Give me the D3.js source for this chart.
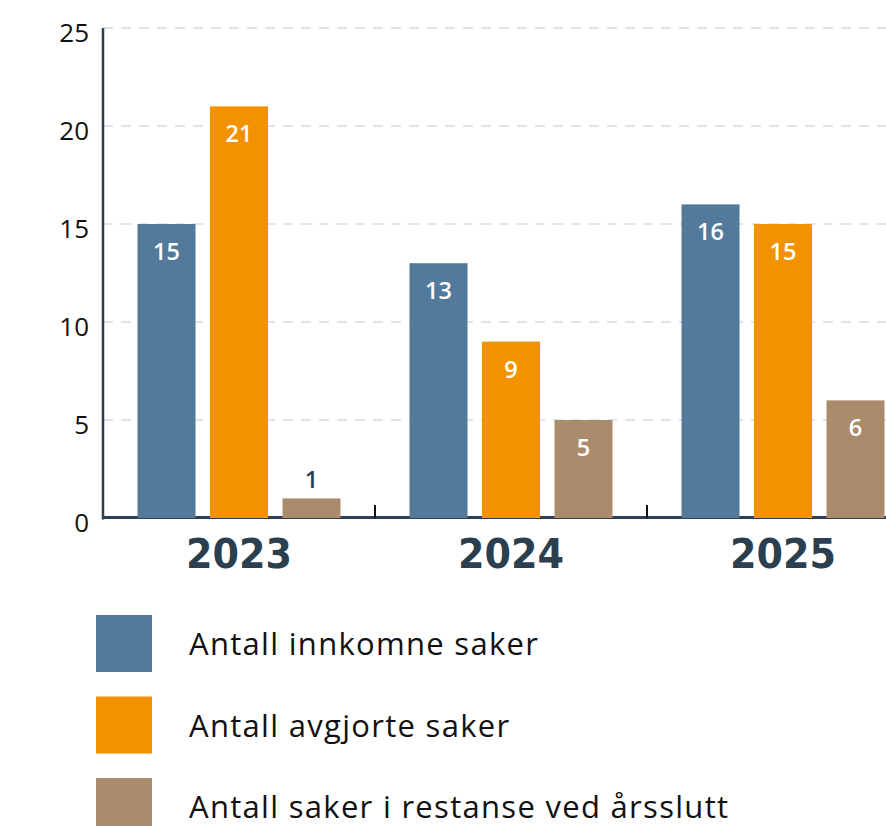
<!DOCTYPE html>
<html><head><meta charset="utf-8">
<script src="https://cdn.jsdelivr.net/npm/d3@7"></script>
<style>body{margin:0;background:#fff}svg{display:block}</style>
</head><body>
<script>
const years = ["2023", "2024", "2025"];
const seriesNames = ["Antall innkomne saker", "Antall avgjorte saker", "Antall saker i restanse ved årsslutt"];
const innkomne = [15, 13, 16];
const avgjorte = [21, 9, 15];
const restanse = [1, 5, 6];
const yTicks = [0, 5, 10, 15, 20, 25];
const colors = ["#537a9a", "#f39200", "#a98c6c"];

(function () {
const seriesValues = [innkomne, avgjorte, restanse];
const W = 886, H = 826;
const svg = d3.select("body").append("svg").attr("width", W).attr("height", H);

const mLeft = 103, mBottom = 518, mTop = 28;
const x0 = d3.scaleBand().domain(years).range([mLeft, mLeft + 272 * 3]).padding(0);
const x1 = d3.scaleBand().domain(d3.range(3)).range([0, x0.bandwidth()]).paddingInner(0.2).paddingOuter(0.476);
const y = d3.scaleLinear().domain([0, 25]).range([mBottom, mTop]);

// gridlines
svg.append("g").selectAll("line").data(yTicks.filter(d => d > 0)).join("line")
  .attr("x1", mLeft).attr("x2", W).attr("y1", d => y(d)).attr("y2", d => y(d))
  .attr("stroke", "#d3dce4").attr("stroke-width", 1.5).attr("stroke-dasharray", "10,8");

// y tick labels
svg.append("g").selectAll("text").data(yTicks).join("text")
  .attr("x", 89).attr("y", d => y(d) + 14).attr("text-anchor", "end")
  .attr("font-family", "'Open Sans'").attr("font-size", 26).attr("fill", "#111")
  .text(d => d);

// axes lines
svg.append("line").attr("x1", mLeft).attr("x2", mLeft).attr("y1", mTop).attr("y2", mBottom + 1.5)
  .attr("stroke", "#2b3f51").attr("stroke-width", 2.5);
svg.append("line").attr("x1", mLeft).attr("x2", W).attr("y1", mBottom - 0.5).attr("y2", mBottom - 0.5)
  .attr("stroke", "#2b3f51").attr("stroke-width", 3);

// group separator ticks
svg.append("g").selectAll("line").data(years.slice(1)).join("line")
  .attr("x1", d => x0(d)).attr("x2", d => x0(d)).attr("y1", mBottom - 13).attr("y2", mBottom)
  .attr("stroke", "#111").attr("stroke-width", 2);

// bars
const groups = svg.append("g").selectAll("g").data(years).join("g")
  .attr("transform", d => `translate(${x0(d)},0)`);
groups.each(function(yr, yi) {
  const g = d3.select(this);
  seriesValues.forEach((vals, si) => {
    const v = vals[yi];
    g.append("rect").attr("x", x1(si)).attr("width", x1.bandwidth())
      .attr("y", y(v)).attr("height", y(0) - y(v)).attr("fill", colors[si]);
    const inside = (y(0) - y(v)) > 45;
    g.append("text").attr("x", x1(si) + x1.bandwidth() / 2)
      .attr("y", inside ? y(v) + 36 : y(v) - 10)
      .attr("text-anchor", "middle").attr("font-family", "'Open Sans'").attr("font-weight", 600)
      .attr("font-size", 23.5).attr("fill", inside ? "#fff" : "#2b3f51").text(v);
  });
});

// year labels
svg.append("g").selectAll("text").data(years).join("text")
  .attr("x", d => x0(d) + x0.bandwidth() / 2 - 53).attr("y", 568)
  .attr("font-family", "'DejaVu Sans'").attr("font-weight", "bold").attr("font-size", 41)
  .attr("fill", "#2b3f51").attr("textLength", 106).attr("lengthAdjust", "spacingAndGlyphs")
  .text(d => d);

// legend
const leg = svg.append("g").selectAll("g").data(seriesNames).join("g")
  .attr("transform", (d, i) => `translate(96,${615 + i * 81.5})`);
leg.append("rect").attr("width", 56).attr("height", 57).attr("fill", (d, i) => colors[i]);
leg.append("text").attr("x", 93).attr("y", 40)
  .attr("font-family", "'Open Sans'").attr("font-size", 31).attr("letter-spacing", 1.3)
  .attr("fill", "#111").text(d => d);
})();
</script>
</body></html>
